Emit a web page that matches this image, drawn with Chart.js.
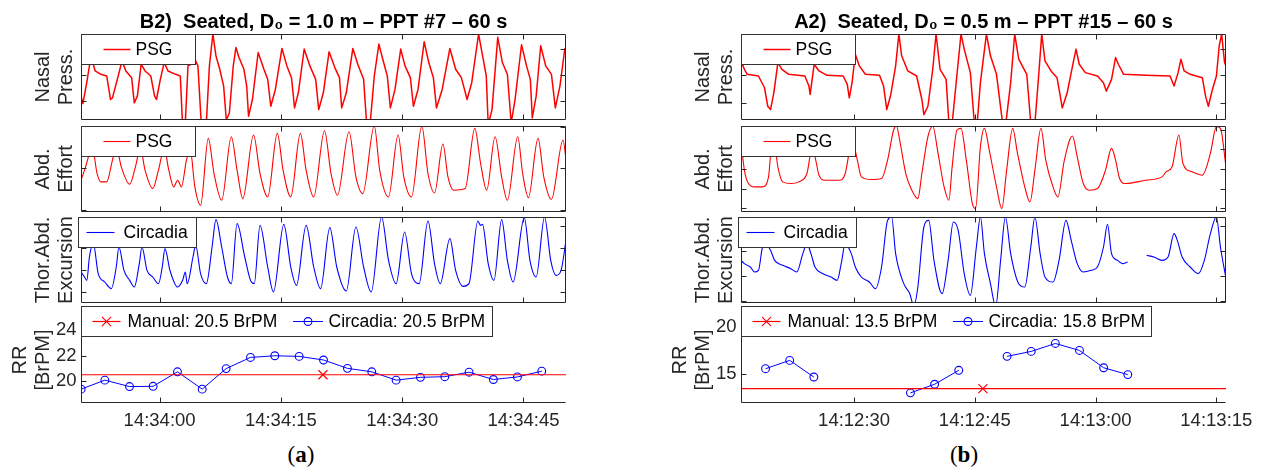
<!DOCTYPE html>
<html><head><meta charset="utf-8">
<script src="https://cdn.jsdelivr.net/npm/chart.js@4.4.1/dist/chart.umd.min.js"></script>
<style>
html,body{margin:0;padding:0;background:#fff;width:1263px;height:471px;overflow:hidden;position:relative}
canvas{position:absolute}
.cap{position:absolute;top:442px;font-family:"Liberation Serif","Times New Roman",serif;font-size:23px;line-height:26px;color:#000;transform:translateX(-50%);white-space:nowrap}
</style></head><body>
<div class="cap" style="left:301px">(<b>a</b>)</div>
<div class="cap" style="left:964px">(<b>b</b>)</div>
<script>
// ---------------- DATA ----------------
// time in seconds relative to first labelled tick (left: 14:34:00, right: 14:12:30)
const xRangeLeft = [-9.72, 50.26];
const xRangeRight = [-14.05, 46.2];
const xTickSec = [0, 15, 30, 45];
const xTickLabelsLeft = ['14:34:00', '14:34:15', '14:34:30', '14:34:45'];
const xTickLabelsRight = ['14:12:30', '14:12:45', '14:13:00', '14:13:15'];

// Left (B2) waveforms: [t, amplitude(a.u.)]
const nasalLeft = [[-9.72,71],[-9.49,49],[-9.01,111],[-8.68,161],[-8.44,186],[-7.97,146],[-7.26,136],[-6.54,131],[-6.07,61],[-5.83,66],[-5.12,131],[-4.65,176],[-4.17,146],[-3.46,126],[-3.13,51],[-2.75,71],[-2.28,166],[-1.80,146],[-1.09,131],[-0.62,71],[-0.38,61],[0.09,121],[0.57,171],[1.04,146],[1.99,136],[2.56,131],[2.85,-19],[3.18,-9],[3.51,161],[3.89,166],[4.36,181],[4.74,161],[5.17,-19],[5.78,-9],[6.16,161],[6.59,256],[6.97,191],[7.44,151],[7.92,101],[8.25,0],[8.63,21],[9.11,161],[9.44,216],[9.82,186],[10.43,151],[10.77,101],[11.0,11],[11.48,61],[12.19,201],[12.90,151],[13.37,121],[13.75,41],[14.32,91],[15.13,213],[15.74,161],[16.31,126],[16.69,36],[17.16,81],[17.88,211],[18.59,161],[19.30,121],[19.68,31],[20.25,81],[20.96,203],[21.67,156],[22.24,126],[22.52,36],[23.09,81],[23.90,213],[24.51,166],[25.23,121],[25.6,-9],[26.08,0],[26.55,131],[27.12,226],[27.60,181],[28.16,131],[28.54,36],[29.11,91],[29.82,211],[30.35,161],[31.01,126],[31.39,41],[31.96,91],[32.72,233],[33.29,171],[33.86,126],[34.24,36],[34.95,91],[35.9,213],[36.61,151],[37.32,126],[38.03,61],[38.6,111],[39.45,256],[40.02,181],[40.40,131],[40.64,-14],[41.11,31],[41.82,246],[42.39,171],[43.01,136],[43.48,-9],[43.96,61],[44.76,224],[45.38,161],[45.85,121],[46.09,6],[46.57,71],[47.13,221],[47.75,161],[48.46,136],[48.94,36],[49.51,101],[50.12,213],[50.3,200]];
const abdLeft = [[-9.72,95],[-9.15,135],[-8.68,175],[-8.35,195],[-7.73,115],[-7.26,90],[-6.54,90],[-5.83,155],[-5.36,195],[-4.74,135],[-3.70,83],[-2.99,135],[-2.37,190],[-1.80,125],[-0.85,70],[-0.14,125],[0.57,190],[1.14,125],[1.75,75],[2.23,95],[2.70,75],[3.32,155],[3.79,185],[4.36,75],[5.07,20],[6.02,220],[6.73,115],[7.68,35],[8.87,225],[9.58,125],[10.29,40],[11.62,230],[12.42,115],[13.37,45],[14.56,235],[15.27,125],[16.22,45],[17.41,235],[18.12,125],[19.06,45],[20.39,243],[21.20,115],[22.0,50],[23.43,240],[24.28,105],[25.13,55],[26.55,257],[27.22,125],[28.31,45],[29.49,230],[30.20,105],[31.15,45],[32.43,257],[33.19,115],[34.0,57],[35.04,203],[35.66,105],[36.37,65],[37.79,70],[38.98,250],[39.7,145],[40.45,65],[41.49,225],[42.30,105],[43.01,35],[44.29,225],[44.9,115],[45.61,43],[46.80,220],[47.51,105],[48.46,38],[49.89,215],[50.3,150]];
const thorLeft = [[-9.72,93],[-9.29,78],[-9.0,68],[-8.68,138],[-8.2,178],[-7.59,88],[-6.78,63],[-5.97,43],[-5.36,108],[-5.03,168],[-4.41,98],[-3.70,68],[-3.13,48],[-2.51,118],[-2.18,168],[-1.56,98],[-0.85,78],[-0.14,58],[0.33,108],[0.66,163],[1.28,98],[2.23,48],[2.85,68],[3.18,93],[3.41,58],[4.13,138],[4.46,173],[5.07,88],[5.78,58],[6.49,168],[6.97,250],[7.68,168],[8.39,78],[8.87,58],[9.58,238],[10.53,138],[11.24,68],[11.71,58],[12.42,233],[13.37,108],[14.08,33],[15.36,236],[16.22,108],[16.93,53],[18.12,233],[19.06,108],[19.91,43],[21.05,226],[21.91,108],[23.09,36],[24.28,228],[25.23,108],[26.17,33],[27.45,258],[28.31,128],[29.25,58],[30.3,213],[31.15,88],[32.1,58],[33.19,246],[34.0,118],[34.71,58],[35.9,193],[36.61,98],[37.55,50],[38.26,58],[39.36,246],[39.7,233],[39.93,236],[40.64,118],[41.35,68],[42.30,250],[43.01,128],[43.72,63],[45.1,256],[45.8,128],[46.57,78],[47.61,258],[48.37,128],[49.03,83],[49.65,98],[50.26,188]];

// Right (A2) waveforms
const nasalRight = [[-14.05,176],[-13.63,151],[-13.28,136],[-11.88,131],[-11.13,96],[-10.73,41],[-10.38,31],[-9.97,81],[-9.47,171],[-8.97,151],[-8.12,136],[-6.12,131],[-5.61,101],[-5.46,76],[-5.21,121],[-4.96,166],[-4.36,146],[-3.36,133],[-1.35,131],[-0.85,106],[-0.6,66],[-0.25,111],[0.15,196],[0.65,161],[1.40,136],[3.16,133],[3.66,101],[4.06,31],[4.56,76],[5.16,161],[5.56,256],[5.91,191],[6.67,146],[7.77,131],[8.42,61],[8.67,16],[9.17,41],[9.77,151],[10.18,256],[10.68,151],[11.43,121],[11.78,-10],[12.18,-10],[12.68,111],[13.28,256],[13.68,211],[14.44,141],[14.94,-10],[15.29,-10],[15.69,111],[16.44,256],[16.94,191],[17.69,136],[18.45,-10],[18.85,-10],[19.45,111],[19.95,256],[20.45,181],[21.45,136],[21.95,-10],[22.46,-10],[22.86,111],[23.31,256],[23.71,176],[24.46,146],[25.21,126],[25.61,71],[25.86,36],[26.47,81],[27.22,171],[27.57,211],[27.97,166],[28.72,141],[30.23,131],[30.98,111],[31.33,86],[31.98,121],[32.48,186],[32.83,166],[33.48,136],[36.24,133],[39.25,131],[39.75,101],[40.25,141],[40.60,181],[41.0,146],[41.75,136],[43.26,126],[43.66,71],[44.01,41],[44.51,91],[45.01,131],[45.36,221],[45.66,256],[46.02,171],[46.2,161]];
const abdRight = [[-14.05,215],[-13.63,125],[-13.13,85],[-12.38,75],[-11.38,75],[-10.63,105],[-10.28,195],[-9.97,215],[-9.47,135],[-8.87,90],[-7.87,85],[-6.87,90],[-5.86,115],[-5.26,185],[-4.86,165],[-4.36,110],[-3.61,95],[-1.85,95],[-1.10,115],[-0.6,180],[-0.25,215],[0.40,155],[0.90,105],[2.15,97],[3.41,100],[4.16,155],[4.91,245],[5.26,257],[5.66,215],[6.42,115],[7.17,65],[7.92,40],[8.42,115],[9.17,225],[9.77,257],[10.43,175],[11.18,75],[11.78,35],[12.18,135],[12.78,245],[13.28,250],[13.94,155],[14.69,25],[15.09,10],[15.69,195],[16.19,250],[16.79,185],[17.69,75],[18.35,10],[18.95,125],[19.70,250],[20.30,175],[21.20,75],[21.85,30],[22.46,125],[23.21,250],[23.81,155],[24.71,75],[25.31,45],[26.12,155],[27.12,227],[27.72,165],[28.47,85],[29.22,65],[30.23,70],[31.23,125],[31.98,190],[32.48,155],[32.98,100],[33.73,85],[36.24,95],[38.25,105],[38.75,120],[39.50,135],[40.35,230],[40.85,145],[42.0,120],[43.26,110],[44.26,175],[45.01,255],[45.51,250],[46.2,135]];
const thorRight = [[-14.05,128],[-13.63,118],[-12.88,108],[-12.38,93],[-11.88,98],[-11.38,168],[-10.98,178],[-10.38,158],[-9.87,128],[-8.87,113],[-7.87,103],[-7.12,93],[-6.37,148],[-5.86,178],[-5.36,148],[-4.86,108],[-3.86,88],[-2.86,78],[-2.11,68],[-1.60,118],[-1.10,178],[-0.35,148],[0.15,108],[0.90,78],[1.90,63],[2.66,43],[3.41,108],[4.16,248],[4.66,258],[5.16,148],[6.17,58],[6.92,28],[7.42,-10],[7.92,48],[8.67,228],[9.27,248],[9.92,128],[10.93,28],[11.68,128],[12.33,243],[12.93,218],[13.68,88],[14.44,23],[15.19,168],[15.69,258],[16.19,148],[16.94,58],[17.59,-10],[18.20,128],[18.8,258],[19.45,148],[20.45,58],[21.20,48],[21.95,168],[22.46,258],[23.11,148],[23.71,78],[24.71,63],[25.46,128],[26.32,248],[26.97,188],[27.72,118],[28.47,93],[29.47,98],[30.23,108],[30.98,168],[31.48,236],[31.98,148],[32.73,128],[33.33,118],[33.98,123],[35.2,null],[36.34,143],[37.24,138],[38.25,128],[39.0,138],[39.75,208],[40.15,188],[40.75,138],[41.75,108],[42.76,88],[43.51,128],[44.26,208],[45.01,258],[45.51,168],[46.2,73]];

// Respiratory rate (BrPM)
const rrTimesLeft = [-9.7,-6.77,-3.72,-0.8,2.21,5.27,8.23,11.24,14.25,17.26,20.27,23.23,26.24,29.25,32.26,35.27,38.27,41.28,44.25,47.26];
const rrCircadiaLeft = [19.38,20.08,19.58,19.6,20.73,19.38,20.98,21.85,21.98,21.93,21.65,21.0,20.73,20.08,20.3,20.35,20.7,20.13,20.33,20.78];
const manualLeft = 20.5, manualTimeLeft = 20.2, circadiaMeanLeft = 20.5;
const rrTimesRight = [-11,-8,-5,-2,1,4,7,10,13,16,19,22,25,28,31,34];
const rrCircadiaRight = [15.59,16.46,14.72,null,null,null,13.06,13.96,15.42,null,16.88,17.40,18.23,17.5,15.69,14.97];
const manualRight = 13.5, manualTimeRight = 16.0, circadiaMeanRight = 15.8;
const rrTicksLeft = [20, 22, 24];
const rrTicksRight = [15, 20];
const rrLimLeft = [18.3, 25];
const rrLimRight = [12, 21];

// inner tick marks of the waveform panels (a.u.)
const yTicksWave = {
  nasalLeft: [58, 133, 211], abdLeft: [5, 130, 255], thorLeft: [33, 98, 165, 230],
  nasalRight: [51, 133, 211], abdRight: [12, 70, 128, 187, 245], thorRight: [5, 80, 155, 230]
};

// ---------------- RENDERING ----------------
const FONT = '"Liberation Sans", Arial, Helvetica, sans-serif';
const AX = '#262626';
const RED = '#ff0000', BLUE = '#0000ff';
Chart.defaults.font.family = FONT;

function axesPlugin(cfg) {
  return {
    id: 'matlabAxes',
    afterDatasetsDraw(chart) {
      const {ctx, chartArea: a} = chart;
      const x = chart.scales.x, y = chart.scales.y;
      ctx.save();
      ctx.strokeStyle = AX; ctx.lineWidth = 1;
      const L = Math.round(a.left) + 0.5, R = Math.round(a.right) - 0.5;
      const T = Math.round(a.top) + 0.5, B = Math.round(a.bottom) - 0.5;
      const len = 5;
      ctx.beginPath();
      if (cfg.box) { ctx.rect(L, T, R - L, B - T); }
      else { ctx.moveTo(L, T); ctx.lineTo(L, B); ctx.lineTo(R, B); }
      cfg.xTicks.forEach(v => {
        const px = Math.round(x.getPixelForValue(v)) + 0.5;
        ctx.moveTo(px, B); ctx.lineTo(px, B - len);
        if (cfg.box) { ctx.moveTo(px, T); ctx.lineTo(px, T + len); }
      });
      cfg.yTicks.forEach(v => {
        const py = Math.round(y.getPixelForValue(v)) + 0.5;
        ctx.moveTo(L, py); ctx.lineTo(L + len, py);
        if (cfg.box) { ctx.moveTo(R, py); ctx.lineTo(R - len, py); }
      });
      ctx.stroke();
      // legend (MATLAB style box drawn above the data)
      const lg = cfg.legend;
      if (lg) {
        const x0 = Math.round(a.left + lg.dx) + 0.5, y0 = Math.round(a.top + lg.dy) + 0.5;
        ctx.fillStyle = '#fff';
        ctx.fillRect(x0, y0, lg.w, lg.h);
        ctx.strokeStyle = '#333'; ctx.lineWidth = 1;
        ctx.strokeRect(x0, y0, lg.w, lg.h);
        const cy = y0 + lg.h / 2;
        ctx.font = '17.5px ' + FONT;
        ctx.textBaseline = 'middle'; ctx.textAlign = 'left';
        lg.items.forEach(it => {
          const ds = chart.data.datasets[it.ds];
          ctx.strokeStyle = ds.borderColor; ctx.lineWidth = ds.borderWidth || 1;
          ctx.beginPath();
          ctx.moveTo(x0 + it.lineX, cy); ctx.lineTo(x0 + it.lineX + it.lineLen, cy);
          ctx.stroke();
          if (it.marker) {
            ctx.lineWidth = 1.1; ctx.fillStyle = 'rgba(0,0,0,0)';
            Chart.helpers.drawPoint(ctx, {pointStyle: it.marker, radius: it.radius, borderWidth: 1.1, rotation: 0},
              x0 + it.lineX + it.lineLen / 2, cy);
          }
          ctx.fillStyle = '#000';
          ctx.fillText(ds.label, x0 + it.textX, cy + 1);
        });
      }
      ctx.restore();
    }
  };
}

const COLS = {
  left: {x: 0, w: 600, padR: 34, xr: xRangeLeft, labels: xTickLabelsLeft},
  right: {x: 660, w: 603, padR: 37, xr: xRangeRight, labels: xTickLabelsRight}
};
const ROWS = [
  {top: 0, h: 122, padT: 0, padB: 2},
  {top: 124, h: 90, padT: 2, padB: 2},
  {top: 215, h: 90, padT: 2, padB: 2},
  {top: 300, h: 171, padT: 17, padB: 0}
];

function pts(arr) { return arr.map(p => ({x: p[0], y: p[1]})); }

function makeChart(col, row, spec) {
  const c = COLS[col], r = ROWS[row];
  const cv = document.createElement('canvas');
  cv.width = c.w; cv.height = r.h;
  cv.style.left = c.x + 'px'; cv.style.top = r.top + 'px';
  document.body.appendChild(cv);
  const isRR = row === 3;
  const yTitle = {
    display: true, text: spec.yTitle, color: AX,
    font: {size: 20, lineHeight: 23 / 20, family: FONT},
    padding: {top: isRR ? 8.5 : 31.5, bottom: 0}
  };
  const options = {
    responsive: false, animation: false, devicePixelRatio: 1,
    layout: {padding: {top: r.padT, bottom: r.padB, left: 0, right: c.padR}},
    plugins: {
      legend: {display: false}, tooltip: {enabled: false},
      title: spec.title ? {
        display: true, text: spec.title, color: '#000', fullSize: false,
        font: {size: 20, weight: 'bold', family: FONT, lineHeight: 1.15},
        padding: {top: 11, bottom: 0}
      } : {display: false}
    },
    scales: {
      x: {
        type: 'linear', min: c.xr[0], max: c.xr[1],
        afterBuildTicks: s => { s.ticks = xTickSec.map(v => ({value: v})); },
        afterFit: s => { s.height = isRR ? 68 : 0; },
        grid: {display: false, drawTicks: false}, border: {display: false},
        ticks: isRR ? {
          display: true, autoSkip: false, maxRotation: 0, padding: 7, color: AX,
          font: {size: 18.5, family: FONT},
          callback: (v, i) => c.labels[i]
        } : {display: false}
      },
      y: {
        type: 'linear', min: spec.ylim[0], max: spec.ylim[1],
        afterBuildTicks: s => { s.ticks = spec.yTicks.map(v => ({value: v})); },
        afterFit: s => { s.width = 81; },
        grid: {display: false, drawTicks: false}, border: {display: false},
        title: yTitle,
        ticks: isRR ? {display: true, padding: 4.5, color: AX, font: {size: 18.5, family: FONT}} : {display: false}
      }
    }
  };
  return new Chart(cv, {
    type: 'line',
    data: {datasets: spec.datasets},
    options,
    plugins: [axesPlugin({box: !isRR, xTicks: xTickSec, yTicks: spec.yTicks, legend: spec.legend})]
  });
}

function wave(label, data, color, width, smooth) {
  const d = {label, data: pts(data), borderColor: color, borderWidth: width, pointRadius: 0,
    tension: 0, spanGaps: false, borderJoinStyle: 'round'};
  if (smooth) d.cubicInterpolationMode = 'monotone';
  return d;
}
const psgLegend = {dx: 0, dy: 0, w: 114, h: 30, items: [{ds: 0, lineX: 22, lineLen: 27, textX: 54}]};
const circLegend = {dx: -3, dy: 0, w: 118, h: 30, items: [{ds: 0, lineX: 8, lineLen: 28, textX: 45}]};

function rrDatasets(times, vals, manual, mTime, mean, xr) {
  const manualLabel = 'Manual: ' + manual.toFixed(1) + ' BrPM';
  return [
    {label: manualLabel, data: [{x: xr[0], y: manual}, {x: xr[1], y: manual}],
      borderColor: RED, borderWidth: 1.2, pointRadius: 0},
    {label: manualLabel, data: [{x: mTime, y: manual}], showLine: false,
      borderColor: RED, pointBorderColor: RED, pointStyle: 'crossRot', pointRadius: 6.4, pointBorderWidth: 1.2},
    {label: 'Circadia: ' + mean.toFixed(1) + ' BrPM',
      data: times.map((t, i) => ({x: t, y: vals[i]})), borderColor: BLUE, borderWidth: 1,
      pointStyle: 'circle', pointRadius: 3.9, pointBorderWidth: 1.1, pointBorderColor: BLUE,
      pointBackgroundColor: 'rgba(0,0,0,0)', spanGaps: false, tension: 0}
  ];
}
function rrLegend(w) {
  return {dx: 0, dy: -11, w, h: 30, items: [
    {ds: 0, lineX: 11, lineLen: 28, textX: 46, marker: 'crossRot', radius: 6.4},
    {ds: 2, lineX: 211.5, lineLen: 30, textX: 247, marker: 'circle', radius: 3.9}
  ]};
}

// Left column
makeChart('left', 0, {title: 'B2)  Seated, D\u2080 = 1.0 m \u2013 PPT #7 \u2013 60 s', yTitle: ['Nasal', 'Press.'],
  ylim: [0, 256], yTicks: yTicksWave.nasalLeft, datasets: [wave('PSG', nasalLeft, RED, 1.5, false)], legend: psgLegend});
makeChart('left', 1, {yTitle: ['Abd.', 'Effort'], ylim: [0, 257], yTicks: yTicksWave.abdLeft,
  datasets: [wave('PSG', abdLeft, RED, 1.1, true)], legend: psgLegend});
makeChart('left', 2, {yTitle: ['Thor.Abd.', 'Excursion'], ylim: [0, 258], yTicks: yTicksWave.thorLeft,
  datasets: [wave('Circadia', thorLeft, BLUE, 1.1, true)], legend: circLegend});
makeChart('left', 3, {yTitle: ['RR', '[BrPM]'], ylim: rrLimLeft, yTicks: rrTicksLeft,
  datasets: rrDatasets(rrTimesLeft, rrCircadiaLeft, manualLeft, manualTimeLeft, circadiaMeanLeft, xRangeLeft), legend: rrLegend(411)});

// Right column
makeChart('right', 0, {title: 'A2)  Seated, D\u2080 = 0.5 m \u2013 PPT #15 \u2013 60 s', yTitle: ['Nasal', 'Press.'],
  ylim: [0, 256], yTicks: yTicksWave.nasalRight, datasets: [wave('PSG', nasalRight, RED, 1.5, false)], legend: psgLegend});
makeChart('right', 1, {yTitle: ['Abd.', 'Effort'], ylim: [0, 257], yTicks: yTicksWave.abdRight,
  datasets: [wave('PSG', abdRight, RED, 1.1, true)], legend: psgLegend});
makeChart('right', 2, {yTitle: ['Thor.Abd.', 'Excursion'], ylim: [0, 258], yTicks: yTicksWave.thorRight,
  datasets: [wave('Circadia', thorRight, BLUE, 1.1, true)], legend: circLegend});
makeChart('right', 3, {yTitle: ['RR', '[BrPM]'], ylim: rrLimRight, yTicks: rrTicksRight,
  datasets: rrDatasets(rrTimesRight, rrCircadiaRight, manualRight, manualTimeRight, circadiaMeanRight, xRangeRight), legend: rrLegend(410)});
</script>
</body></html>
